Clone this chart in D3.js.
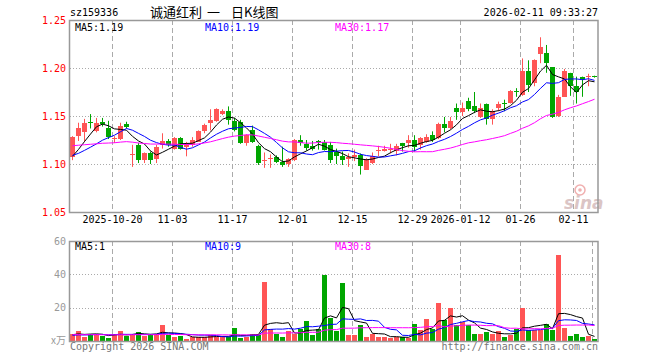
<!DOCTYPE html>
<html>
<head>
<meta charset="utf-8">
<script src="https://cdn.jsdelivr.net/npm/d3@7"></script>
<style>
  body { margin: 0; background: #fff; }
  svg { display: block; }
  text { font-family: "DejaVu Sans Mono", monospace; font-size: 10px; }
</style>
</head>
<body>
<div id="chart"></div>
<script>
// trading days shown on the chart
const dates = [
  '2025-10-09','2025-10-10','2025-10-13','2025-10-14','2025-10-15','2025-10-16','2025-10-17','2025-10-20','2025-10-21','2025-10-22',
  '2025-10-23','2025-10-24','2025-10-27','2025-10-28','2025-10-29','2025-10-30','2025-10-31','2025-11-03','2025-11-04','2025-11-05',
  '2025-11-06','2025-11-07','2025-11-10','2025-11-11','2025-11-12','2025-11-13','2025-11-14','2025-11-17','2025-11-18','2025-11-19',
  '2025-11-20','2025-11-21','2025-11-24','2025-11-25','2025-11-26','2025-11-27','2025-11-28','2025-12-01','2025-12-02','2025-12-03',
  '2025-12-04','2025-12-05','2025-12-08','2025-12-09','2025-12-10','2025-12-11','2025-12-12','2025-12-15','2025-12-16','2025-12-17',
  '2025-12-18','2025-12-19','2025-12-22','2025-12-23','2025-12-24','2025-12-25','2025-12-26','2025-12-29','2025-12-30','2025-12-31',
  '2026-01-05','2026-01-06','2026-01-07','2026-01-08','2026-01-09','2026-01-12','2026-01-13','2026-01-14','2026-01-15','2026-01-16',
  '2026-01-19','2026-01-20','2026-01-21','2026-01-22','2026-01-23','2026-01-26','2026-01-27','2026-01-28','2026-01-29','2026-01-30',
  '2026-02-02','2026-02-03','2026-02-04','2026-02-05','2026-02-06','2026-02-09','2026-02-10','2026-02-11'
];

const open = [
  1.107,1.129,1.133,1.144,1.134,1.144,1.137,1.126,1.126,1.142,
  1.109,1.120,1.104,1.111,1.105,1.120,1.124,1.116,1.127,1.118,
  1.120,1.123,1.134,1.143,1.145,1.152,1.155,1.145,1.144,1.122,
  1.135,1.119,1.103,1.105,1.107,1.102,1.100,1.104,1.125,1.121,
  1.119,1.124,1.123,1.120,1.112,1.108,1.105,1.107,1.109,1.094,
  1.101,1.114,1.114,1.115,1.114,1.122,1.122,1.125,1.120,1.123,
  1.130,1.127,1.142,1.137,1.158,1.154,1.166,1.160,1.149,1.162,
  1.147,1.158,1.164,1.164,1.176,1.172,1.197,1.184,1.215,1.216,
  1.201,1.150,1.170,1.195,1.181,1.191,1.191,1.192
];
const high = [
  1.129,1.143,1.147,1.152,1.148,1.148,1.145,1.129,1.143,1.144,
  1.120,1.122,1.112,1.113,1.120,1.132,1.126,1.128,1.128,1.123,
  1.128,1.135,1.142,1.157,1.158,1.157,1.160,1.148,1.146,1.131,
  1.140,1.120,1.112,1.110,1.109,1.118,1.106,1.126,1.130,1.125,
  1.124,1.125,1.125,1.123,1.116,1.113,1.111,1.115,1.111,1.106,
  1.112,1.119,1.119,1.121,1.121,1.122,1.130,1.130,1.128,1.131,
  1.134,1.143,1.149,1.149,1.163,1.164,1.169,1.175,1.163,1.163,
  1.157,1.165,1.167,1.177,1.179,1.210,1.208,1.209,1.232,1.224,
  1.201,1.172,1.199,1.195,1.191,1.191,1.194,1.192
];
const low = [
  1.104,1.124,1.123,1.137,1.133,1.139,1.126,1.122,1.125,1.137,
  1.097,1.101,1.101,1.100,1.101,1.116,1.118,1.115,1.115,1.108,
  1.118,1.123,1.132,1.135,1.144,1.151,1.141,1.134,1.121,1.119,
  1.122,1.099,1.096,1.096,1.101,1.097,1.097,1.103,1.119,1.114,
  1.114,1.115,1.114,1.101,1.100,1.099,1.097,1.103,1.089,1.094,
  1.100,1.108,1.113,1.111,1.109,1.113,1.117,1.113,1.115,1.122,
  1.123,1.126,1.133,1.136,1.146,1.150,1.155,1.153,1.148,1.141,
  1.141,1.155,1.155,1.163,1.170,1.171,1.175,1.181,1.205,1.195,
  1.148,1.149,1.170,1.171,1.163,1.170,1.181,1.190
];
const close = [
  1.128,1.137,1.143,1.143,1.143,1.142,1.128,1.127,1.140,1.139,
  1.110,1.104,1.111,1.104,1.118,1.124,1.120,1.127,1.116,1.120,
  1.125,1.134,1.141,1.146,1.157,1.155,1.146,1.135,1.122,1.130,
  1.123,1.101,1.104,1.106,1.102,1.099,1.105,1.125,1.122,1.117,
  1.116,1.123,1.115,1.104,1.108,1.104,1.107,1.109,1.098,1.104,
  1.108,1.115,1.116,1.116,1.119,1.119,1.125,1.118,1.127,1.128,
  1.125,1.142,1.138,1.145,1.154,1.158,1.157,1.155,1.158,1.147,
  1.155,1.163,1.163,1.176,1.175,1.197,1.182,1.208,1.222,1.205,
  1.149,1.170,1.197,1.181,1.175,1.189,1.192,1.191
];
// volume, 万手
const volume = [
  4.4,5.8,2.4,4.4,4.4,3.2,1.8,4.4,5.8,3.2,
  4.4,5.2,2.8,4.4,4.4,9.4,3.4,2.4,2.8,1.2,
  2.4,2.4,2.4,3.8,2.4,2.8,2.4,7.6,1.6,2.4,
  4.4,3.6,35.4,7.0,4.4,2.4,5.8,4.4,7.0,12.0,
  3.4,7.0,39.4,13.6,5.8,34.8,3.4,3.4,9.8,2.4,
  4.0,2.4,2.4,1.8,2.4,2.4,2.0,10.4,6.4,13.0,
  7.4,22.8,12.4,19.8,9.4,11.4,9.8,4.0,4.0,5.4,
  4.0,5.8,2.4,3.8,7.4,20.0,6.4,6.8,6.4,10.4,
  6.8,51.4,7.8,2.8,4.4,2.4,2.8,1.4
];
// sessions before the first visible day (only feed the moving averages)
const priorCloses = [
  1.122,1.126,1.130,1.128,1.125,1.121,1.118,1.120,1.124,1.127,
  1.129,1.126,1.122,1.119,1.121,1.125,1.128,1.126,1.123,1.121,
  1.116,1.112,1.110,1.108,1.104,1.101,1.102,1.104,1.105
];
const priorVolumes = [
  4.6,3.8,4.2,3.5,5.0,3.9,4.4,3.6,4.1,3.2,
  4.8,3.7,4.0,3.4,4.5,3.9,4.2,3.6,4.0,3.6,
  2.8,3.2,3.1,2.9,3.0,3.5,3.9,3.4,3.8
];

const priceTicks = [1.05, 1.10, 1.15, 1.20, 1.25];
const volTicks = [20, 40, 60];
const xTickDates = ['2025-10-20','2025-11-03','2025-11-17','2025-12-01','2025-12-15','2025-12-29','2026-01-12','2026-01-26','2026-02-11'];
const xTickLabels = ['2025-10-20','11-03','11-17','12-01','12-15','12-29','2026-01-12','01-26','02-11'];
const maNames = ['MA5', 'MA10', 'MA30'];
const maColors = ['#000000', '#0000ff', '#ff00ff'];
const priceMaText = ['1.19', '1.19', '1.17'];
const volMaText = ['1', '9', '8'];
const titleParts = ['诚通红利', '一', '日K线图'];

const W = 660, H = 360;
const left = 70, right = 598;
const mainTop = 20, mainBottom = 212;
const volTop = 241, volBottom = 341;
const red = '#ff5555', green = '#00a600', grid = '#aaaaaa';

const svg = d3.select('#chart').append('svg').attr('width', W).attr('height', H);

const x = d3.scaleBand().domain(dates).range([left, right]);
const bw = 5;
const cx = d => x(d) + 2.5;
const y = d3.scaleLinear().domain([1.05, 1.25]).range([mainBottom, mainTop]);
const yv = d3.scaleLinear().domain([0, 60]).range([volBottom, volTop]);

const candles = dates.map((d, i) => ({d: d, o: open[i], h: high[i], l: low[i], c: close[i], v: volume[i]}));
const colorOf = k => k.c >= k.o ? red : green;

function movingAvg(series, prior, n) {
  const all = prior.concat(series);
  return series.map((_, i) => {
    const end = i + prior.length + 1;
    return d3.mean(all.slice(end - n, end));
  });
}

// header
svg.append('text').attr('x', 70).attr('y', 16).text('sz159336');
svg.selectAll('text.title').data(titleParts).enter().append('text')
  .attr('x', (d, i) => [150, 207, 231][i]).attr('y', 17)
  .style('font-family', '"Noto Sans CJK SC", sans-serif').style('font-size', '13px')
  .text(d => d);
svg.append('text').attr('x', right).attr('y', 16).attr('text-anchor', 'end').text('2026-02-11 09:33:27');

// x position of a date label; the last one is pulled in so it fits
const tickX = d => Math.min(x(d), right - 25) + 0.5;

// ---- price panel ----
const main = svg.append('g');
main.selectAll('line.hg').data(priceTicks.slice(1, -1)).enter().append('line')
  .attr('x1', left).attr('x2', right)
  .attr('y1', d => Math.round(y(d)) + 0.5).attr('y2', d => Math.round(y(d)) + 0.5)
  .attr('stroke', grid).attr('stroke-dasharray', '1,2');
main.selectAll('line.vg').data(xTickDates).enter().append('line')
  .attr('x1', tickX).attr('x2', tickX)
  .attr('y1', mainTop).attr('y2', mainBottom)
  .attr('stroke', grid).attr('stroke-dasharray', '5,3');

// sina watermark
const logo = main.append('g').attr('opacity', 0.45);
logo.append('circle').attr('cx', 580).attr('cy', 190).attr('r', 5)
  .attr('fill', 'none').attr('stroke', '#e05050').attr('stroke-width', 1.5);
logo.append('circle').attr('cx', 580).attr('cy', 190).attr('r', 1.8).attr('fill', '#e05050');
logo.append('text').attr('x', 564).attr('y', 209)
  .style('font-family', '"DejaVu Sans", sans-serif').style('font-size', '17px')
  .style('font-style', 'italic').style('font-weight', 'bold')
  .attr('fill', '#b08080').text('sina');

const yAxis = main.append('g').attr('transform', `translate(${left},0)`)
  .call(d3.axisLeft(y).tickValues(priceTicks).tickFormat(d3.format('.2f')).tickSize(0).tickPadding(4));
yAxis.select('.domain').remove();
yAxis.selectAll('text').attr('fill', '#ff0000')
  .style('font-family', '"DejaVu Sans Mono", monospace').style('font-size', '10px');

// wicks and bodies
main.selectAll('line.wick').data(candles).enter().append('line')
  .attr('x1', d => cx(d.d)).attr('x2', d => cx(d.d))
  .attr('y1', d => y(d.h)).attr('y2', d => y(d.l))
  .attr('stroke', colorOf);
main.selectAll('rect.body').data(candles).enter().append('rect')
  .attr('x', d => x(d.d)).attr('width', bw)
  .attr('y', d => y(Math.max(d.o, d.c)))
  .attr('height', d => Math.max(1, Math.abs(y(d.o) - y(d.c))))
  .attr('fill', colorOf).attr('shape-rendering', 'crispEdges');

const priceMA = [5, 10, 30].map(n => movingAvg(close, priorCloses, n));
const priceLine = d3.line().x((v, i) => cx(dates[i])).y(v => y(v));
priceMA.forEach((m, k) => {
  main.append('path').attr('d', priceLine(m)).attr('fill', 'none')
    .attr('stroke', maColors[k]).attr('stroke-width', 1);
});

main.append('rect').attr('x', left - 0.5).attr('y', mainTop + 0.5)
  .attr('width', right - left + 0.5).attr('height', mainBottom - mainTop)
  .attr('fill', 'none').attr('stroke', '#999').attr('stroke-width', 1.5);

[75, 205, 335].forEach((px, k) => {
  main.append('text').attr('x', px).attr('y', 31).attr('fill', maColors[k])
    .text(maNames[k] + ':' + priceMaText[k]);
});

// date labels
svg.selectAll('text.xl').data(xTickDates).enter().append('text')
  .attr('x', tickX).attr('y', 223).attr('text-anchor', 'middle')
  .attr('fill', '#000').text((d, i) => xTickLabels[i]);

// ---- volume panel ----
const vol = svg.append('g');
vol.selectAll('line.hg').data(volTicks.slice(0, -1)).enter().append('line')
  .attr('x1', left).attr('x2', right)
  .attr('y1', d => Math.round(yv(d)) + 0.5).attr('y2', d => Math.round(yv(d)) + 0.5)
  .attr('stroke', grid).attr('stroke-dasharray', '1,2');
vol.selectAll('line.vg').data(xTickDates).enter().append('line')
  .attr('x1', d => x(d) + 0.5).attr('x2', d => x(d) + 0.5)
  .attr('y1', volTop).attr('y2', volBottom)
  .attr('stroke', grid).attr('stroke-dasharray', '5,3');

const vAxis = vol.append('g').attr('transform', `translate(${left},0)`)
  .call(d3.axisLeft(yv).tickValues(volTicks).tickFormat(d3.format('d')).tickSize(0).tickPadding(4));
vAxis.select('.domain').remove();
vAxis.selectAll('text').attr('fill', '#999')
  .style('font-family', '"DejaVu Sans Mono", monospace').style('font-size', '10px');
vol.append('text').attr('x', left - 4).attr('y', volBottom + 3).attr('text-anchor', 'end')
  .attr('fill', '#999').style('font-family', '"Noto Sans CJK SC", sans-serif').style('font-size', '10px')
  .text('x万');

vol.selectAll('rect.bar').data(candles).enter().append('rect')
  .attr('x', d => x(d.d)).attr('width', bw)
  .attr('y', d => yv(d.v)).attr('height', d => yv(0) - yv(d.v))
  .attr('fill', colorOf).attr('shape-rendering', 'crispEdges');

const volMA = [5, 10, 30].map(n => movingAvg(volume, priorVolumes, n));
const volLine = d3.line().x((v, i) => cx(dates[i])).y(v => yv(v));
volMA.forEach((m, k) => {
  vol.append('path').attr('d', volLine(m)).attr('fill', 'none')
    .attr('stroke', maColors[k]).attr('stroke-width', 1);
});

vol.append('rect').attr('x', left - 0.5).attr('y', volTop + 0.5)
  .attr('width', right - left + 0.5).attr('height', volBottom - volTop)
  .attr('fill', 'none').attr('stroke', '#999').attr('stroke-width', 1.5);

[75, 205, 335].forEach((px, k) => {
  vol.append('text').attr('x', px).attr('y', 250).attr('fill', maColors[k])
    .text(maNames[k] + ':' + volMaText[k]);
});

// footer
svg.append('text').attr('x', 70).attr('y', 350).attr('fill', '#777').text('Copyright 2026 SINA.COM');
svg.append('text').attr('x', right).attr('y', 350).attr('text-anchor', 'end').attr('fill', '#777')
  .text('http://finance.sina.com.cn');
</script>
</body>
</html>
